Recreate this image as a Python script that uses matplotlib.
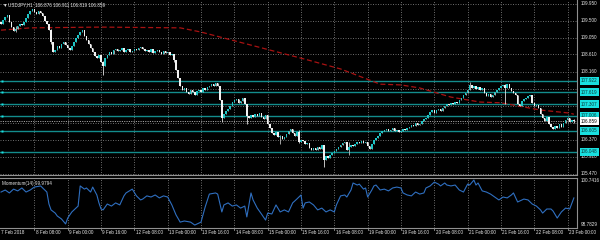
import matplotlib
matplotlib.use('Agg')
import matplotlib.pyplot as plt
import matplotlib.transforms as mtransforms

# ---------------- data ----------------
closes = [
    109.41, 109.52, 109.60, 109.65, 109.46,
    109.33, 109.23, 109.28, 109.36, 109.41,
    109.39, 109.46, 109.57, 109.67, 109.75,
    109.81, 109.73, 109.67, 109.75, 109.70,
    109.62, 109.49, 109.41, 109.25, 108.94,
    108.68, 108.73, 108.83, 108.78, 108.89,
    108.94, 108.86, 108.78, 108.73, 108.83,
    108.94, 109.04, 109.12, 109.20, 109.25,
    109.10, 108.99, 108.89, 108.78, 108.68,
    108.57, 108.52, 108.60, 108.41, 108.31,
    108.52, 108.60, 108.68, 108.62, 108.73,
    108.75, 108.70, 108.73, 108.78, 108.68,
    108.73, 108.75, 108.68, 108.70, 108.75,
    108.73, 108.78, 108.81, 108.75, 108.70,
    108.73, 108.68, 108.75, 108.65, 108.70,
    108.73, 108.68, 108.62, 108.70, 108.65,
    108.68, 108.60, 108.62, 108.47, 108.20,
    107.99, 107.78, 107.68, 107.73, 107.62,
    107.57, 107.68, 107.62, 107.55, 107.65,
    107.68, 107.62, 107.73, 107.68, 107.76,
    107.78, 107.83, 107.78, 107.86, 107.78,
    107.41, 106.94, 107.05, 107.12, 107.18,
    107.26, 107.36, 107.41, 107.44, 107.34,
    107.39, 107.47, 107.31, 107.00, 106.94,
    107.02, 106.97, 107.05, 107.00, 107.07,
    106.97, 106.91, 107.02, 106.78, 106.68,
    106.55, 106.49, 106.57, 106.44, 106.47,
    106.39, 106.44, 106.52, 106.60, 106.65,
    106.55, 106.47, 106.57, 106.31, 106.36,
    106.34, 106.26, 106.28, 106.15, 106.10,
    106.15, 106.10, 106.18, 106.13, 106.23,
    105.84, 105.94, 105.89, 105.97, 106.02,
    106.07, 106.13, 106.18, 106.23, 106.28,
    106.31, 106.10, 106.18, 106.23, 106.21,
    106.26, 106.31, 106.28, 106.34, 106.28,
    106.31, 106.21, 106.13, 106.26, 106.36,
    106.42, 106.47, 106.55, 106.60, 106.63,
    106.65, 106.60, 106.63, 106.68, 106.60,
    106.63, 106.57, 106.60, 106.65, 106.63,
    106.68, 106.70, 106.76, 106.73, 106.81,
    106.76, 106.78, 106.86, 106.91, 106.94,
    107.02, 107.10, 107.15, 107.07, 107.15,
    107.18, 107.12, 107.20, 107.26, 107.31,
    107.28, 107.34, 107.31, 107.36, 107.34,
    107.41, 107.47, 107.55, 107.60, 107.68,
    107.81, 107.73, 107.78, 107.70, 107.76,
    107.68, 107.73, 107.60, 107.52, 107.57,
    107.49, 107.55, 107.62, 107.68, 107.73,
    107.78, 107.81, 107.73, 107.83, 107.73,
    107.65, 107.60, 107.55, 107.31, 107.26,
    107.39, 107.44, 107.47, 107.52, 107.55,
    107.34, 107.26, 107.28, 107.20, 107.05,
    106.94, 106.86, 106.97, 106.78, 106.70,
    106.65, 106.73, 106.68, 106.78, 106.70,
    106.81, 106.89, 106.94, 106.84, 106.876,
    106.859,
]
first_open = 109.46

# bars with visible wicks: index, high, low
wick_idx  = [7, 24, 49, 83, 106, 118, 134, 143, 155, 167, 225, 242, 275]
wick_high = [109.36, 109.28, 108.45, 108.62, 107.41, 107.31, 106.49, 106.63, 106.07, 106.31, 107.89, 107.83, 106.911]
wick_low  = [109.20, 108.89, 108.07, 108.41, 106.84, 106.78, 106.26, 106.28, 105.65, 105.97, 107.68, 107.31, 106.819]

# moving average (red dashed) vertices
ma_idx  = [0, 14, 48, 86, 96, 147, 163, 182, 192, 201, 216, 230, 240, 259, 273, 275]
ma_vals = [109.25, 109.31, 109.33, 109.31, 109.20, 108.47, 108.23, 107.83, 107.81,
           107.73, 107.49, 107.36, 107.34, 107.15, 107.07, 107.04]

# momentum(14) vertices
mom_idx = [0, 2, 4, 6, 8, 10, 12, 14, 16, 19, 21, 22, 23, 24, 26, 27, 29, 31, 32, 34,
           36, 37, 38, 40, 41, 43, 44, 46, 47, 48, 49, 51, 53, 55, 57, 59, 60, 63, 65, 67,
           68, 70, 72, 74, 76, 78, 80, 82, 84, 86, 88, 91, 93, 96, 98, 100, 103, 104, 106, 107,
           109, 111, 113, 115, 117, 118, 120, 121, 123, 125, 127, 128, 130, 132, 134, 136, 138, 140, 142, 144,
           145, 146, 148, 150, 152, 154, 156, 158, 160, 161, 163, 165, 166, 168, 169, 171, 172, 174, 175, 176,
           178, 179, 180, 182, 184, 186, 188, 190, 192, 193, 195, 197, 199, 201, 203, 204, 206, 208, 210, 211,
           213, 214, 216, 218, 220, 222, 224, 225, 227, 228, 229, 231, 233, 235, 237, 239, 241, 243, 245, 246,
           248, 250, 251, 253, 255, 257, 259, 260, 262, 264, 265, 267, 269, 271, 273, 275]
mom_vals = [100.24, 100.33, 100.20, 100.37, 100.29, 100.42, 100.24, 100.33, 100.46, 100.51, 100.33, 100.24, 99.71, 99.45, 99.31, 99.18, 99.05, 98.83, 99.09, 99.36,
            99.53, 99.62, 100.51, 100.37, 100.42, 100.24, 100.46, 100.11, 99.76, 99.49, 99.45, 99.71, 99.62, 99.76, 99.67, 100.07, 100.20, 100.37, 100.07, 99.89,
            99.93, 100.07, 100.02, 100.11, 99.98, 100.07, 100.02, 99.67, 99.23, 98.91, 98.96, 98.91, 98.78, 98.91, 99.58, 100.15, 100.20, 100.15, 99.36, 99.67,
            99.76, 99.62, 99.67, 99.53, 99.62, 99.14, 100.20, 99.89, 99.53, 99.27, 99.00, 99.31, 99.27, 99.67, 99.36, 99.45, 99.36, 99.76, 99.93, 100.11,
            99.53, 99.76, 99.80, 99.67, 99.45, 99.53, 99.36, 99.45, 99.36, 99.67, 100.07, 100.11, 100.02, 100.33, 100.64, 100.55, 100.59, 100.37, 100.42, 100.02,
            100.33, 100.51, 100.55, 100.33, 100.37, 100.29, 100.42, 100.46, 100.42, 100.20, 100.11, 100.07, 100.24, 100.15, 100.20, 100.42, 100.51, 100.68, 100.59, 100.51,
            100.64, 100.55, 100.51, 100.55, 100.33, 100.24, 100.59, 100.55, 100.77, 100.55, 100.64, 100.29, 100.24, 100.15, 100.02, 99.89, 100.02, 99.98, 100.11, 100.20,
            99.80, 99.89, 99.93, 99.89, 99.71, 99.62, 99.45, 99.31, 99.49, 99.49, 99.40, 99.09, 99.36, 99.53, 99.49, 99.98]

tick_idx = [0, 16, 32, 48, 64, 80, 96, 112, 128, 144, 160, 176, 192, 208, 224, 240, 256, 272]
tick_labels = ["7 Feb 2018", "8 Feb 08:00", "9 Feb 00:00", "9 Feb 16:00", "12 Feb 08:00",
               "13 Feb 00:00", "13 Feb 16:00", "14 Feb 08:00", "15 Feb 00:00", "15 Feb 16:00",
               "16 Feb 08:00", "19 Feb 00:00", "19 Feb 16:00", "20 Feb 08:00", "21 Feb 00:00",
               "21 Feb 16:00", "22 Feb 08:00", "23 Feb 00:00"]

grid_prices = [109.95, 109.50, 109.05, 108.61, 108.16, 107.71, 107.26, 106.82, 106.37, 105.92, 105.47]
price_labels = ["109.950", "109.500", "109.050", "108.610", "108.160", "", "", "", "106.370", "105.920", "105.470"]

level_prices = [107.922, 107.619, 107.307, 107.006, 106.605, 106.048]
level_labels = ["107.922", "107.619", "107.307", "107.006", "106.605", "106.048"]

current_price = 106.859
header = "USDJPY,H1  106.876 106.911 106.819 106.859"
mom_label = "Momentum(14) 99.9794"
mom_max_label, mom_min_label = "100.7416", "98.7829"
mom_max, mom_min = 100.7416, 98.7829

# ---------------- style ----------------
FONT = ['Liberation Sans', 'DejaVu Sans']
FS = 3.3
BG = 'black'
GRID = '#7a7a7a'
TXT = '#e6e6e6'
BULL = '#1fc4c4'
BEAR = '#f2f2f2'
LEVEL = '#138c8c'
LABELBOX = '#19e0e0'

W, H = 600, 240
fig = plt.figure(figsize=(W / 100, H / 100), dpi=100, facecolor=BG)

def fx(px):
    return px / W

def fy(py):
    return 1 - py / H

right_px = 577
ax = fig.add_axes([0, fy(175), fx(right_px), fy(0) - fy(175)], facecolor=BG)
axm = fig.add_axes([0, fy(228), fx(right_px), fy(177.5) - fy(228)], facecolor=BG)

n = len(closes)
xlim = (-0.5, 276.5)
for a in (ax, axm):
    a.set_xlim(*xlim)
    a.set_xticks([])
    a.set_yticks([])
    for s in a.spines.values():
        s.set_color('#909090')
        s.set_linewidth(0.8)
    a.spines['left'].set_visible(False)
    a.spines['top'].set_visible(a is axm)

ax.set_ylim(105.443, 110.042)
axm.set_ylim(98.650, 100.883)

# grids
for t in tick_idx[1:]:
    for a in (ax, axm):
        a.axvline(t, color=GRID, lw=0.6, ls=(0, (1.2, 1.8)), zorder=0)
for p in grid_prices:
    ax.axhline(p, color=GRID, lw=0.6, ls=(0, (1.2, 1.8)), zorder=0)

# level lines
for p in level_prices:
    ax.axhline(p, color=LEVEL, lw=1.0, zorder=1)
    ax.plot([0.004], [p], marker='s', ms=2.0, color=LABELBOX, mec='none',
            transform=mtransforms.blended_transform_factory(ax.transAxes, ax.transData),
            clip_on=False, zorder=5)

# current price line
ax.axhline(current_price, color='#a0a0a0', lw=0.7, ls=(0, (1.2, 1.2)), zorder=1)

# moving average
ax.plot(ma_idx, ma_vals, color='#a81212', lw=0.9, ls=(0, (4, 2.2)), zorder=2)

# candles
opens = [first_open] + closes[:-1]
highs = [max(o, c) for o, c in zip(opens, closes)]
lows = [min(o, c) for o, c in zip(opens, closes)]
for k, i in enumerate(wick_idx):
    highs[i] = max(highs[i], wick_high[k])
    lows[i] = min(lows[i], wick_low[k])
xs = list(range(n))
bull = [c >= o for o, c in zip(opens, closes)]
ax.vlines(xs, lows, highs, colors=['#bfbfbf' if b else '#e0e0e0' for b in bull], lw=0.6, zorder=3)
bottoms = [min(o, c) for o, c in zip(opens, closes)]
heights = [max(abs(c - o), 0.012) for o, c in zip(opens, closes)]
ax.bar(xs, heights, bottom=bottoms, width=0.72,
       color=[BULL if b else BEAR for b in bull], edgecolor='none', zorder=4)

# momentum
axm.plot(mom_idx, mom_vals, color='#2f6fc0', lw=0.8)

# right axis labels (main)
tr = mtransforms.blended_transform_factory(ax.transAxes, ax.transData)
xr = 1.0 + fx(4) / fx(right_px)
for p, lab in zip(grid_prices, price_labels):
    if lab:
        ax.text(xr, p, lab, transform=tr, fontsize=FS, color=TXT, va='center', ha='left',
                family=FONT, clip_on=False)
for p, lab in zip(level_prices, level_labels):
    ax.text(xr, p, lab, transform=tr, fontsize=FS, color='#0a3a3a', va='center', ha='left',
            family=FONT, clip_on=False,
            bbox=dict(boxstyle='square,pad=0.3', fc=LABELBOX, ec='none'))
ax.text(xr, current_price, "106.859", transform=tr, fontsize=FS, color='black', va='center',
        ha='left', family=FONT, clip_on=False,
        bbox=dict(boxstyle='square,pad=0.3', fc='white', ec='none'))

# momentum axis labels
trm = mtransforms.blended_transform_factory(axm.transAxes, axm.transData)
axm.text(xr, mom_max, mom_max_label, transform=trm, fontsize=FS, color=TXT, va='center',
         ha='left', family=FONT, clip_on=False)
axm.text(xr, mom_min, mom_min_label, transform=trm, fontsize=FS, color=TXT, va='center',
         ha='left', family=FONT, clip_on=False)

# header and indicator label
fig.text(fx(2), fy(5), "\u25bc", fontsize=FS, color=TXT, va='center', ha='left', family=FONT)
fig.text(fx(8), fy(5), header, fontsize=FS, color=TXT, va='center', ha='left', family=FONT)
fig.text(fx(2), fy(183), mom_label, fontsize=FS, color=TXT, va='center', ha='left', family=FONT)

# time axis labels
trx = mtransforms.blended_transform_factory(axm.transData, fig.transFigure)
for t, lab in zip(tick_idx, tick_labels):
    off = 0.0 if t == 0 else 0.6
    fig.text(t + off, fy(233), lab, transform=trx, fontsize=FS, color=TXT, va='center',
             ha='left', family=FONT)
    if t > 0:
        axm.plot([t, t], [0, -0.04], color='#909090', lw=0.6,
                 transform=mtransforms.blended_transform_factory(axm.transData, axm.transAxes),
                 clip_on=False)

fig.savefig('out.png', dpi=100, facecolor=BG)
